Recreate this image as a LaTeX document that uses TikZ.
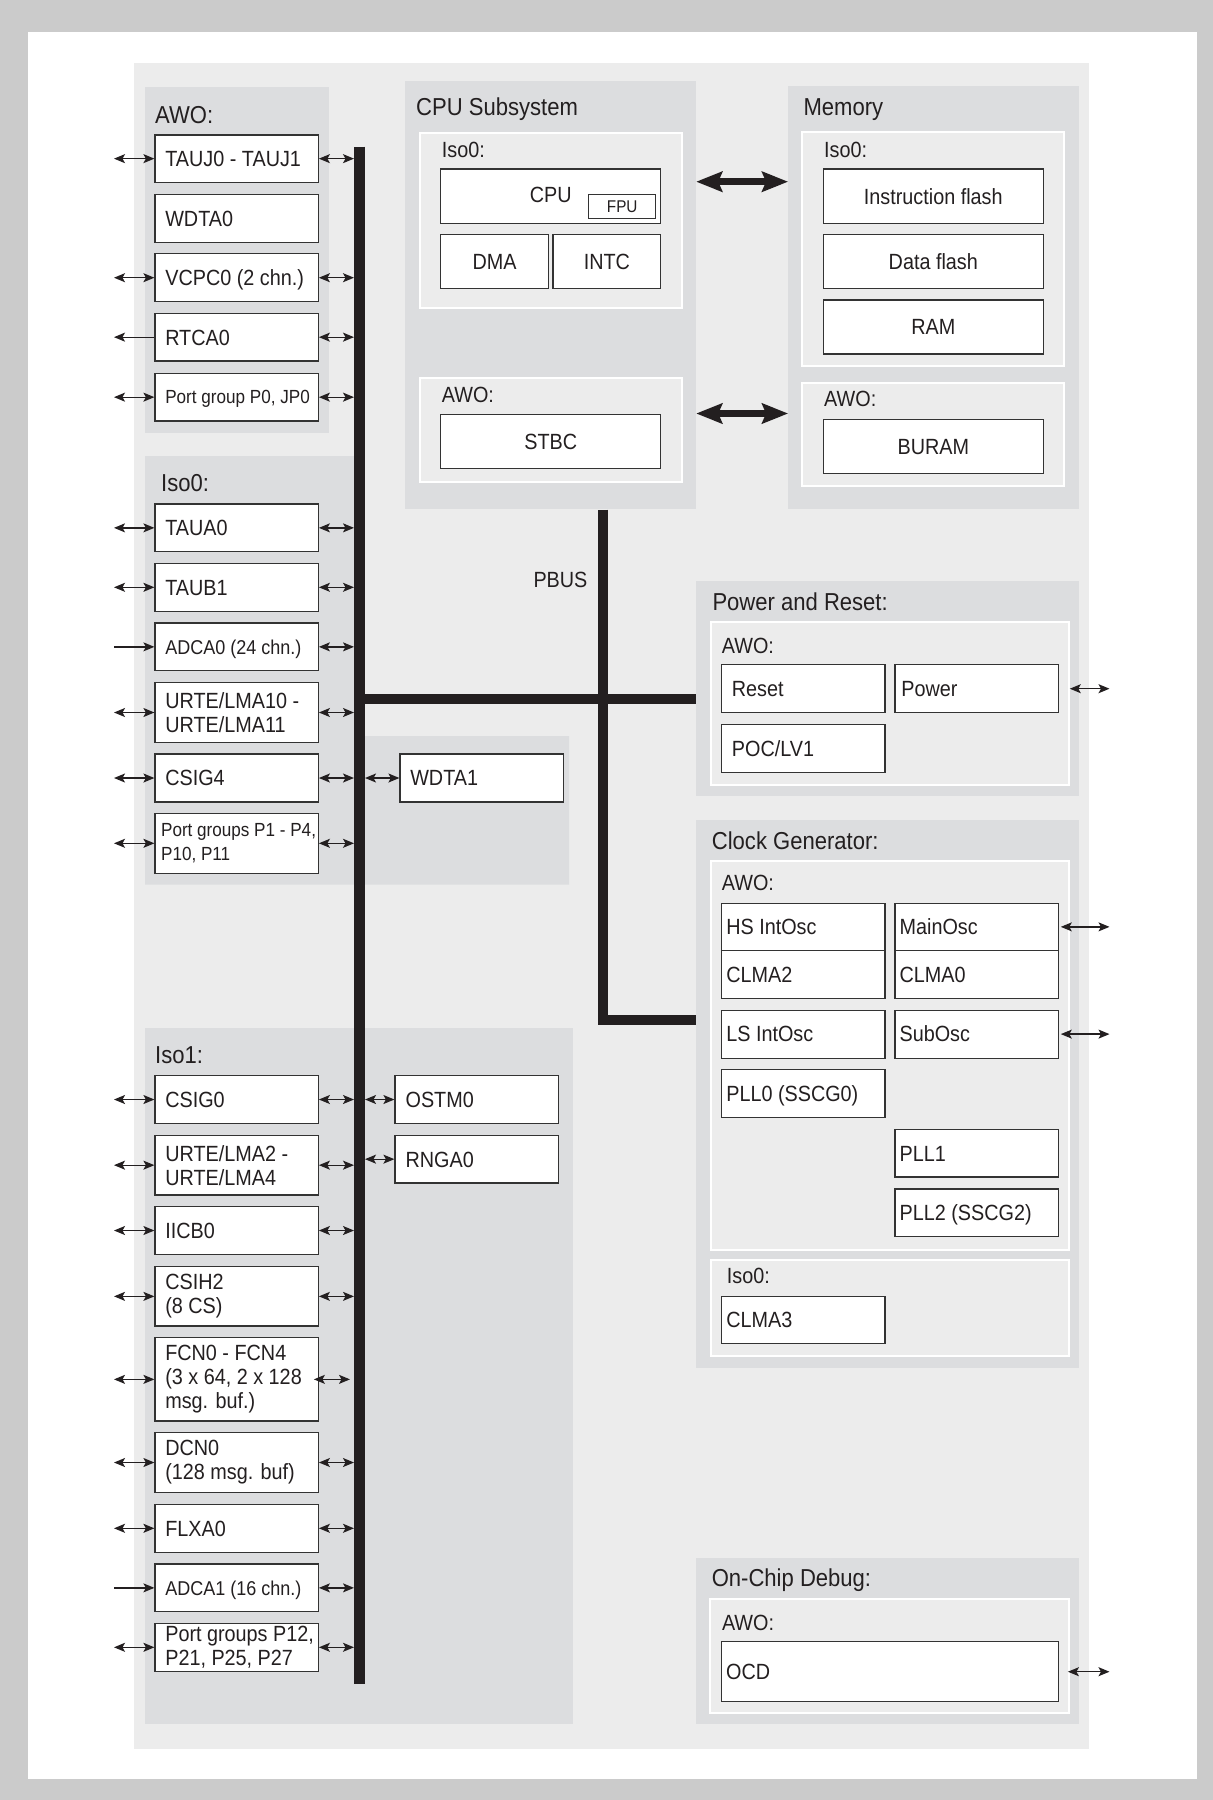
\documentclass[tikz,border=0pt]{standalone}
\usepackage{fontspec}
\setmainfont{Liberation Sans}[FakeStretch=0.9]
\usetikzlibrary{arrows.meta,fit}
\definecolor{outerc}{HTML}{CBCBCB}
\definecolor{lightc}{HTML}{ECECEC}
\definecolor{grpc}{HTML}{DCDDDF}
\definecolor{inkc}{HTML}{231F20}
\definecolor{linec}{HTML}{333333}
\newcommand\fnTitle{\fontsize{24.5}{27}\selectfont}
\newcommand\fnBox{\fontsize{22}{24}\selectfont}
\newcommand\fnPort{\fontsize{19}{23.3}\selectfont}
\newcommand\fnAdc{\fontsize{20}{24}\selectfont}
\newcommand\fnFpu{\fontsize{17}{20}\selectfont}
\newcommand\lbx[7]{\node[box, fit={(#2,#3) (#4,#5)}] (#1) {};
  \node[btxt] at ([xshift=#6pt]#1.west) {#7};}
\newcommand\cbx[6]{\node[box, fit={(#2,#3) (#4,#5)}] (#1) {};
  \node[ctxt] at (#1.center) {#6};}
\begin{document}
\begin{tikzpicture}[x=1pt,y=-1pt,
  grp/.style={fill=grpc, draw=none, inner sep=0pt},
  subpanel/.style={fill=lightc, draw=white, line width=2pt, inner sep=0pt},
  box/.style={fill=white, draw=linec, line width=1.2pt, inner sep=0pt},
  btxt/.style={inner sep=0pt, anchor=west, font=\fnBox, text height=15.75pt, text depth=0pt, text=inkc},
  ctxt/.style={inner sep=0pt, anchor=center, font=\fnBox, text height=15.75pt, text depth=0pt, text=inkc},
  mtxt/.style={inner sep=0pt, anchor=west, font=\fnBox, align=left, text=inkc},
  ttl/.style={inner sep=0pt, anchor=base west, font=\fnTitle, text=inkc},
  stl/.style={inner sep=0pt, anchor=base west, font=\fnBox, text=inkc},
  sa/.style={line width=1.3pt, draw=inkc, >={Stealth[length=11pt,width=9pt,inset=2.5pt]}},
  ta/.style={line width=7pt, draw=inkc, >={Stealth[length=26pt,width=20pt,inset=4pt]}},
  bus/.style={line width=11pt, draw=inkc, line cap=butt, line join=miter}]
\useasboundingbox (0,0) rectangle (1213,1800);
\fill[outerc] (0,0) rectangle (1213,1800);
\fill[white] (28,32) rectangle (1197,1779);
\fill[lightc] (134,63) rectangle (1089,1749);

% coordinates
\coordinate (ol) at (114,0);
\coordinate (bl) at (354,0);
\coordinate (br) at (365,0);
\coordinate (orx) at (1109.5,0);
\coordinate (bustop) at (359.5,146.7);
\coordinate (busbot) at (359.5,1684);
\coordinate (hb) at (359.5,699.2);
\coordinate (pbx) at (602.5,0);
\coordinate (lb) at (0,1020);
\coordinate (taa) at (0,181.7);
\coordinate (tab) at (0,413.5);

% group panels
\node[grp, fit={(145,86.7) (329,432.7)}] (awoL) {};
\fill[grpc] (145,456) -- (360,456) -- (360,736) -- (569,736) -- (569,884.5) -- (145,884.5) -- cycle;
\node[grp, fit={(145,1028) (573.3,1724.3)}] (isoone) {};
\node[grp, fit={(405,81) (696,509.3)}] (cpup) {};
\node[grp, fit={(788.3,86) (1079,508.7)}] (memp) {};
\node[grp, fit={(696,581) (1079,796)}] (powp) {};
\node[grp, fit={(696,820) (1079,1368)}] (clkp) {};
\node[grp, fit={(696,1558.3) (1079,1724.3)}] (ocdp) {};

% sub panels
\node[subpanel, fit={(420,132.7) (681.7,308.3)}] (cpuiso) {};
\node[subpanel, fit={(420,378.3) (681.7,481.7)}] (cpuawo) {};
\node[subpanel, fit={(802.3,132.3) (1064.3,366)}] (memiso) {};
\node[subpanel, fit={(802.3,382.7) (1064.3,485.7)}] (memawo) {};
\node[subpanel, fit={(710.7,622.3) (1069.3,785)}] (powawo) {};
\node[subpanel, fit={(710.7,860.7) (1069.3,1249.6)}] (clkawo) {};
\node[subpanel, fit={(710.7,1259.8) (1069.3,1356.2)}] (clkiso) {};
\node[subpanel, fit={(710,1599.3) (1069.2,1713.3)}] (ocdawo) {};

% titles
\node[ttl] at (155,123.3) {AWO:};
\node[ttl] at (161,491.7) {Iso0:};
\node[ttl] at (155,1063.3) {Iso1:};
\node[ttl] at (416,115) {CPU Subsystem};
\node[ttl] at (803.3,115) {Memory};
\node[ttl] at (712.3,610) {Power and Reset:};
\node[ttl] at (711.7,849) {Clock Generator:};
\node[ttl] at (711.6,1586.7) {On-Chip Debug:};
\node[stl] at (441.7,157.3) {Iso0:};
\node[stl] at (441.7,402.7) {AWO:};
\node[stl] at (824,157.3) {Iso0:};
\node[stl] at (824,406.7) {AWO:};
\node[stl] at (721.7,653.3) {AWO:};
\node[stl] at (721.7,890.9) {AWO:};
\node[stl] at (726.7,1283.5) {Iso0:};
\node[stl] at (721.8,1630) {AWO:};
\node[stl] at (533.3,587.3) {PBUS};

% buses
\draw[bus] (bustop) -- (busbot);
\draw[bus, line width=10.3pt] (hb) -- (powp.west |- hb);
\draw[bus, line width=10pt] (cpup.south -| pbx) -- (pbx |- lb) -- (clkp.west |- lb);

% left AWO boxes
\lbx{tauj}{155}{135}{318.3}{182.3}{10.7}{TAUJ0 - TAUJ1}
\lbx{wdtaz}{155}{194.3}{318.3}{242.3}{10.7}{WDTA0}
\lbx{vcpc}{155}{253.7}{318.3}{301.7}{10.7}{VCPC0 (2 chn.)}
\lbx{rtca}{155}{313.3}{318.3}{361}{10.7}{RTCA0}
\node[box, fit={(155,373.3) (318.3,421)}] (portz) {};
\node[btxt, font=\fnPort, text height=13.6pt] at ([xshift=10.7pt]portz.west) {Port group P0, JP0};

% left Iso0 boxes
\lbx{taua}{155}{504}{318.3}{551.7}{10.7}{TAUA0}
\lbx{taub}{155}{563.3}{318.3}{611.3}{10.7}{TAUB1}
\node[box, fit={(155,623) (318.3,670.7)}] (adcaz) {};
\node[btxt, font=\fnAdc, text height=14.3pt] at ([xshift=10.7pt]adcaz.west) {ADCA0 (24 chn.)};
\node[box, fit={(155,682.7) (318.3,742.3)}] (urtea) {};
\node[mtxt] at ([xshift=10.7pt]urtea.west) {URTE/LMA10 -\\URTE/LMA11};
\lbx{csigf}{155}{754}{318.3}{802}{10.7}{CSIG4}
\node[box, fit={(155,813.3) (318.3,873.3)}] (portg) {};
\node[mtxt, font=\fnPort] at ([xshift=6.5pt]portg.west) {Port groups P1 - P4,\\P10, P11};
\lbx{wdtaa}{400}{754}{563.3}{802}{10.7}{WDTA1}

% Iso1 boxes
\lbx{csigz}{155}{1075.7}{318.3}{1123.3}{10.7}{CSIG0}
\node[box, fit={(155,1135.3) (318.3,1195)}] (urteb) {};
\node[mtxt] at ([xshift=10.7pt]urteb.west) {URTE/LMA2 -\\URTE/LMA4};
\lbx{iicb}{155}{1206.7}{318.3}{1254.3}{10.7}{IICB0}
\node[box, fit={(155,1266.7) (318.3,1326)}] (csih) {};
\node[mtxt] at ([xshift=10.7pt]csih.west) {CSIH2\\(8 CS)};
\node[box, fit={(155,1337.7) (318.3,1421)}] (fcn) {};
\node[mtxt] at ([xshift=10.7pt]fcn.west) {FCN0 - FCN4\\(3 x 64, 2 x 128\\msg. buf.)};
\node[box, fit={(155,1432.7) (318.3,1492.3)}] (dcn) {};
\node[mtxt] at ([xshift=10.7pt]dcn.west) {DCN0\\(128 msg. buf)};
\lbx{flxa}{155}{1504.3}{318.3}{1552.3}{10.7}{FLXA0}
\node[box, fit={(155,1564) (318.3,1611.7)}] (adcao) {};
\node[btxt, font=\fnAdc, text height=14.3pt] at ([xshift=10.7pt]adcao.west) {ADCA1 (16 chn.)};
\node[box, fit={(155,1623.3) (318.3,1671.3)}] (portw) {};
\node[mtxt, font=\fontsize{22}{23.3}\selectfont] at ([xshift=10.7pt]portw.west) {Port groups P12,\\P21, P25, P27};
\lbx{ostm}{395}{1075.7}{558.3}{1123.3}{11}{OSTM0}
\lbx{rnga}{395}{1135.3}{558.3}{1183}{11}{RNGA0}

% CPU subsystem
\node[box, fit={(440.7,169) (660.7,223.3)}] (cpu) {};
\node[ctxt] at ([yshift=2pt]cpu.center) {CPU};
\node[box, line width=1pt, fit={(588.7,194.3) (655.7,218.7)}] (fpu) {};
\node[ctxt, font=\fnFpu, text height=12.2pt] at (fpu.center) {FPU};
\cbx{dma}{440.7}{234.3}{548.3}{288.7}{DMA}
\cbx{intc}{553}{234.3}{660.7}{288.7}{INTC}
\cbx{stbc}{440.7}{414.3}{660.7}{468.7}{STBC}

% Memory
\cbx{iflash}{823.3}{169}{1043.3}{223.3}{Instruction flash}
\cbx{dflash}{823.3}{234.3}{1043.3}{288.7}{Data flash}
\cbx{ram}{823.3}{300}{1043.3}{354}{RAM}
\cbx{buram}{823.3}{419.3}{1043.3}{473.3}{BURAM}

% Power and reset
\lbx{reset}{721.3}{664.7}{885}{712.7}{11}{Reset}
\lbx{power}{895}{664.7}{1058.7}{712.7}{6.7}{Power}
\lbx{poc}{721.3}{724.3}{885}{772.3}{11}{POC/LV1}

% Clock generator
\lbx{hsosc}{721.3}{903.2}{885}{950.5}{5.4}{HS IntOsc}
\lbx{clmab}{721.3}{950.5}{885}{998.5}{5.4}{CLMA2}
\lbx{mainosc}{895}{903.2}{1058.7}{950.5}{5}{MainOsc}
\lbx{clmaa}{895}{950.5}{1058.7}{998.5}{5}{CLMA0}
\lbx{lsosc}{721.3}{1010.1}{885}{1058.1}{5.4}{LS IntOsc}
\lbx{subosc}{895}{1010.1}{1058.7}{1058.1}{5}{SubOsc}
\lbx{pllz}{721.3}{1069.7}{885}{1117.7}{5.4}{PLL0 (SSCG0)}
\lbx{pllo}{895}{1129.3}{1058.7}{1177}{5}{PLL1}
\lbx{pllt}{895}{1189}{1058.7}{1236.2}{5}{PLL2 (SSCG2)}
\lbx{clmac}{721.3}{1296.2}{885}{1343.8}{5.4}{CLMA3}

% OCD
\lbx{ocd}{721.5}{1641.7}{1058.3}{1701.7}{5}{OCD}

% thick arrows CPU <-> Memory
\draw[ta,<->] (cpup.east |- taa) -- (memp.west |- taa);
\draw[ta,<->] (cpup.east |- tab) -- (memp.west |- tab);

% small arrows, outer left
\foreach \n in {tauj,vcpc,portz,taua,taub,urtea,csigf,portg,csigz,urteb,iicb,csih,fcn,dcn,flxa,portw}
  \draw[sa,<->] (\n.west -| ol) -- (\n.west);
\draw[sa,->] (rtca.west) -- (rtca.west -| ol);
\foreach \n in {adcaz,adcao}
  \draw[sa,->] (\n.west -| ol) -- (\n.west);
% small arrows to bus
\foreach \n in {tauj,vcpc,rtca,portz,taua,taub,adcaz,urtea,csigf,portg,csigz,urteb,iicb,csih,dcn,flxa,adcao,portw}
  \draw[sa,<->] (\n.east) -- (\n.east -| bl);
\draw[sa,<->] ([xshift=-5pt]fcn.east) -- ([xshift=-4pt]fcn.east -| bl);
\foreach \n in {wdtaa,ostm,rnga}
  \draw[sa,<->] (\n.west -| br) -- (\n.west);
% right side arrows
\draw[sa,<->] ([xshift=10.5pt]power.east) -- (power.east -| orx);
\draw[sa,<->] ([xshift=1.5pt]mainosc.east) -- (mainosc.east -| orx);
\draw[sa,<->] ([xshift=1.5pt]subosc.east) -- (subosc.east -| orx);
\draw[sa,<->] ([xshift=9pt]ocd.east) -- (ocd.east -| orx);
\end{tikzpicture}
\end{document}
